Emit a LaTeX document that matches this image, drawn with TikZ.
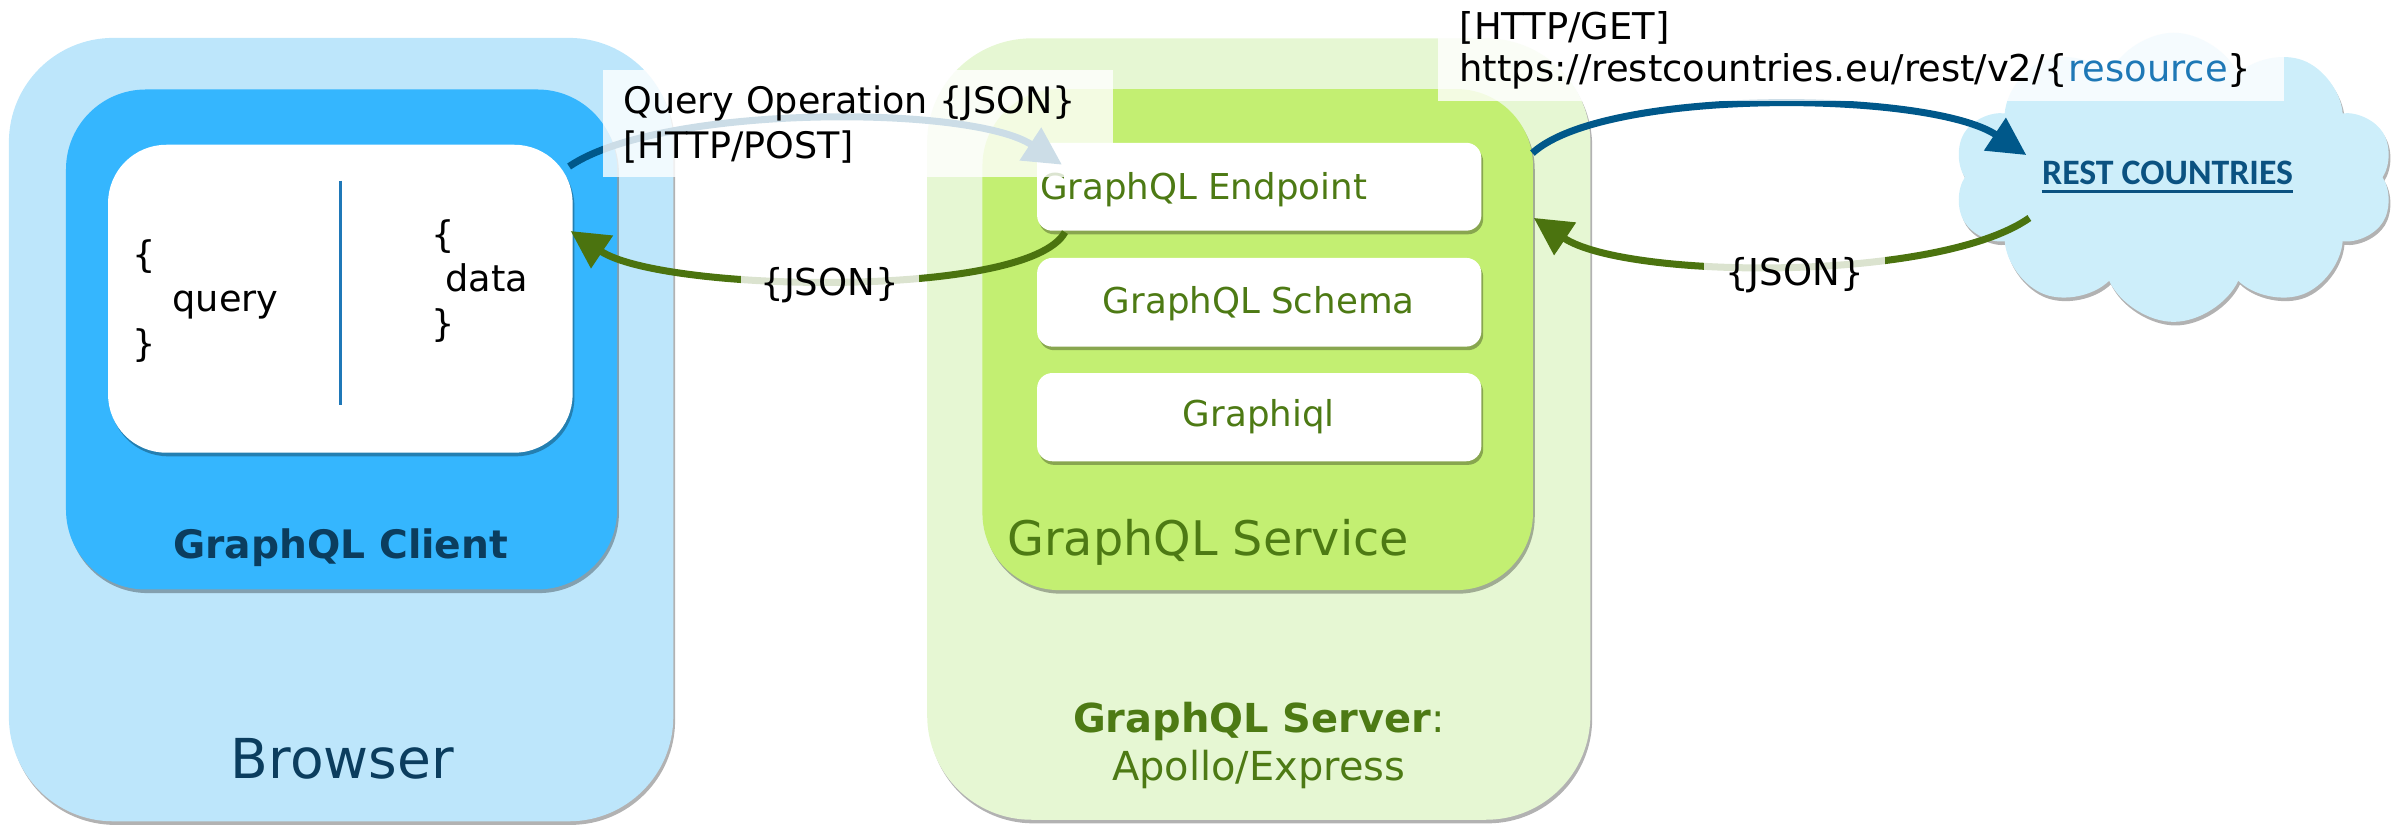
\documentclass[tikz,border=0pt]{standalone}
\usepackage{fontspec}
\setmainfont{DejaVu Sans}
\newfontfamily\restfont{Carlito}
\usetikzlibrary{arrows.meta,shapes.symbols,shadows,calc}

\definecolor{browserfill}{HTML}{BDE6FB}
\definecolor{clientfill}{HTML}{35B6FE}
\definecolor{serverfill}{HTML}{E6F7D3}
\definecolor{servicefill}{HTML}{C3EF72}
\definecolor{cloudfill}{HTML}{CDEEFA}
\definecolor{navy}{HTML}{0B3D5E}
\definecolor{leaf}{HTML}{4D7A14}
\definecolor{flowgreen}{HTML}{4B730F}
\definecolor{flowblue}{HTML}{00588A}
\definecolor{divider}{HTML}{1F78B8}
\definecolor{resourceblue}{HTML}{1E78B6}
\definecolor{restblue}{HTML}{0B5281}

\tikzset{
  softshadow/.style={drop shadow={shadow xshift=1pt,shadow yshift=-2pt,opacity=0.3,fill=black}},
  panel/.style={inner sep=0pt, softshadow},
  flow/.style={line width=3.9pt, -{Triangle[length=21pt,width=21pt]}},
  tagbox/.style={fill=white, fill opacity=0.8, text opacity=1, inner sep=0pt},
  plain/.style={inner sep=0pt},
  labeltext/.style={plain, font={\fontsize{20.3}{25}\selectfont}},
  greentext/.style={plain, text=leaf, font={\fontsize{19.8}{24}\selectfont}},
  cardtext/.style={plain, font={\fontsize{20.4}{24.75}\selectfont}}
}

\begin{document}
\begin{tikzpicture}[x=0.03cm,y=-0.03cm]
\useasboundingbox (0,0) rectangle (1568,537.4);

% ---------- browser side ----------
\node[panel, fill=browserfill, rounded corners=2.04cm,
      minimum width=12.984cm, minimum height=15.309cm] (browser) at (222.2,279.85) {};
\node[panel, fill=clientfill, rounded corners=1.56cm,
      minimum width=10.77cm, minimum height=9.771cm] (client) at (222.5,221.15) {};
\node[panel, fill=white, rounded corners=1.14cm,
      minimum width=9.078cm, minimum height=6.018cm] (card) at (221.7,194.6) {};
\draw[divider, line width=1.7pt] (222,117.6) -- (222,264);
\node[cardtext, anchor=base west] (querytxt) at (86.4,174)
  {\begin{tabular}[t]{@{}l@{}}\{\\\hspace*{1.08em}query\\\}\end{tabular}};
\node[cardtext, anchor=base west] (datatxt) at (280.8,161)
  {\begin{tabular}[t]{@{}l@{}}\{\\\hspace*{0.38em}data\\\}\end{tabular}};
\node[plain, anchor=base, text=navy, font={\fontsize{21.8}{26}\selectfont\bfseries}]
  (clientlbl) at (222,364) {GraphQL Client};
\node[plain, anchor=base, text=navy, font={\fontsize{30.6}{36}\selectfont}]
  (browserlbl) at (223,507) {Browser};

% ---------- server side ----------
\node[panel, fill=serverfill, rounded corners=2.04cm,
      minimum width=12.96cm, minimum height=15.27cm] (server) at (820,279.5) {};
\node[panel, fill=servicefill, rounded corners=1.5cm,
      minimum width=10.758cm, minimum height=9.792cm] (service) at (819.3,221.2) {};
\node[panel, fill=white, rounded corners=0.3cm,
      minimum width=8.682cm, minimum height=1.719cm] (endpoint) at (820.3,121.65) {};
\node[panel, fill=white, rounded corners=0.3cm,
      minimum width=8.682cm, minimum height=1.734cm] (schema) at (820.3,196.9) {};
\node[panel, fill=white, rounded corners=0.3cm,
      minimum width=8.682cm, minimum height=1.725cm] (graphiql) at (820.3,271.75) {};
\node[greentext, anchor=base west] (endpointtxt) at (677.3,130) {GraphQL Endpoint};
\node[greentext, anchor=base] (schematxt) at (820,204) {GraphQL Schema};
\node[greentext, anchor=base] (graphiqltxt) at (820,278) {Graphiql};
\node[plain, anchor=base west, text=leaf, font={\fontsize{26.5}{31}\selectfont}]
  (servicelbl) at (656,362) {GraphQL Service};
\node[plain, anchor=base, text=leaf, font={\fontsize{22.2}{27}\selectfont}]
  (serverlbl) at (820,477)
  {\begin{tabular}[t]{@{}c@{}}\textbf{GraphQL Server}:\\Apollo/Express\end{tabular}};

% ---------- external REST API ----------
\node[cloud, cloud puffs=10, cloud puff arc=130, cloud ignores aspect,
      fill=cloudfill, softshadow, inner sep=0pt,
      minimum width=8.6cm, minimum height=5.65cm] (cloud) at (1416,115.5) {};
\node[plain, anchor=base, text=restblue, font={\fontsize{19.9}{24}\selectfont\restfont\bfseries}]
  (resttxt) at (1412,120) {REST COUNTRIES};
\draw[restblue, line width=1.7pt]
  ([yshift=-4.3pt]resttxt.base west) -- ([yshift=-4.3pt]resttxt.base east);

% ---------- request / response flows ----------
\draw[flow, flowblue]
  ($(card.north east)+(-2.5,14.4)$) .. controls (430,68) and (632,68) ..
  ($(endpoint.north west)+(16.4,14.5)$);
\draw[flow, flowgreen]
  ($(endpoint.south west)+(18.4,0.7)$) .. controls (670,195) and (431.5,190.5) ..
  ($(card.east)+(-1.5,-44.1)$);
\draw[flow, flowblue]
  ($(service.north east)+(-0.6,42)$) .. controls (1045,57) and (1257,59) ..
  ($(cloud.center)+(-96,-14.5)$);
\draw[flow, flowgreen]
  ($(cloud.center)+(-94,26.5)$) .. controls (1262,184) and (1059,182) ..
  ($(service.north east)+(0.3,84.2)$);

% ---------- flow labels ----------
\node[tagbox, minimum width=9.96cm, minimum height=2.082cm] (querybox) at (559,80.3) {};
\node[labeltext, anchor=base west] (querytag) at (406,73.8)
  {\begin{tabular}[t]{@{}l@{}}Query Operation \{JSON\}\\{}[HTTP/POST]\end{tabular}};
\node[tagbox, minimum width=16.53cm, minimum height=1.98cm] (urlbox) at (1212.5,33) {};
\node[plain, anchor=base west, font={\fontsize{20.5}{23.2}\selectfont}] (urltag) at (950.6,26)
  {\begin{tabular}[t]{@{}l@{}}[HTTP/GET]\\https://restcountries.eu/rest/v2/\{\textcolor{resourceblue}{resource}\}\end{tabular}};
\node[tagbox, inner xsep=11pt, inner ysep=2pt, anchor=base,
      font={\fontsize{20.6}{24}\selectfont}] (jsonleft) at (540.5,192.2) {\{JSON\}};
\node[tagbox, inner xsep=12pt, inner ysep=2pt, anchor=base,
      font={\fontsize{20.6}{24}\selectfont}] (jsonright) at (1169,185.7) {\{JSON\}};
\end{tikzpicture}
\end{document}
